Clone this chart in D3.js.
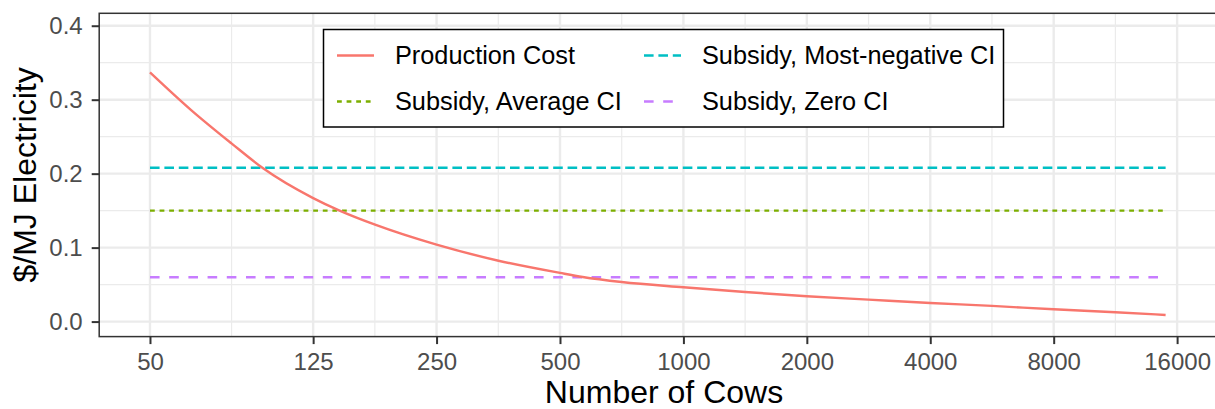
<!DOCTYPE html>
<html>
<head>
<meta charset="utf-8">
<script src="https://cdn.jsdelivr.net/npm/d3@7"></script>
<style>
  html, body { margin: 0; padding: 0; background: #fff; }
  svg { display: block; font-family: "Liberation Sans", Arial, sans-serif; }
</style>
</head>
<body>
<svg id="chart" width="1215" height="409"></svg>
<script>
// ---- data ----
const cows = [50, 63, 79, 94, 125, 145, 177, 250, 354, 500, 568, 707, 1000, 1414, 2000, 2828, 4000, 5657, 8000, 11314, 15000];
const productionCost = [0.337, 0.286, 0.241, 0.208, 0.167, 0.150, 0.131, 0.104, 0.0823, 0.0658, 0.0603, 0.0535, 0.0464, 0.0400, 0.0342, 0.0297, 0.0252, 0.0212, 0.0166, 0.0126, 0.0090];
const subsidyNames = ["Subsidy, Average CI", "Subsidy, Most-negative CI", "Subsidy, Zero CI"];
const subsidyValues = [0.150, 0.208, 0.060];
const subsidyRange = [50, 15000];
const xTickValues = [50, 125, 250, 500, 1000, 2000, 4000, 8000, 16000];
const yTickValues = [0.0, 0.1, 0.2, 0.3, 0.4];
const legendLabels = ["Production Cost", "Subsidy, Average CI", "Subsidy, Most-negative CI", "Subsidy, Zero CI"];

// ---- styles ----
const colors = {
  "Production Cost": "#F8766D",
  "Subsidy, Average CI": "#7CAE00",
  "Subsidy, Most-negative CI": "#00BFC4",
  "Subsidy, Zero CI": "#C77CFF"
};
const dashes = {
  "Production Cost": null,
  "Subsidy, Average CI": "4.8,4.8",
  "Subsidy, Most-negative CI": "9.6,4.8",
  "Subsidy, Zero CI": "9.6,9.6"
};
const lineW = 2.4;

const svg = d3.select("#chart");
const panel = { left: 99.2, right: 1216.4, top: 13.3, bottom: 336.6 };

const expand = Math.log10(15000 / 50) * 0.05;
const x = d3.scaleLog()
  .domain([50 / Math.pow(10, expand), 15000 * Math.pow(10, expand)])
  .range([panel.left, panel.right]);
const y = d3.scaleLinear()
  .domain([-0.0203, 0.4168])
  .range([panel.bottom, panel.top]);

// clip for panel
svg.append("defs").append("clipPath").attr("id", "clip")
  .append("rect").attr("x", panel.left).attr("y", panel.top)
  .attr("width", panel.right - panel.left).attr("height", panel.bottom - panel.top);

const grid = svg.append("g").attr("clip-path", "url(#clip)");

// minor gridlines (midpoints in transformed space)
const xMinor = d3.pairs(xTickValues).map(([a, b]) => Math.sqrt(a * b));
const yMinor = d3.pairs(yTickValues).map(([a, b]) => (a + b) / 2);

grid.selectAll(".xminor").data(xMinor).join("line")
  .attr("x1", d => x(d)).attr("x2", d => x(d))
  .attr("y1", panel.top).attr("y2", panel.bottom)
  .attr("stroke", "#EBEBEB").attr("stroke-width", 1.2);
grid.selectAll(".yminor").data(yMinor).join("line")
  .attr("y1", d => y(d)).attr("y2", d => y(d))
  .attr("x1", panel.left).attr("x2", panel.right)
  .attr("stroke", "#EBEBEB").attr("stroke-width", 1.2);
grid.selectAll(".xmajor").data(xTickValues).join("line")
  .attr("x1", d => x(d)).attr("x2", d => x(d))
  .attr("y1", panel.top).attr("y2", panel.bottom)
  .attr("stroke", "#EBEBEB").attr("stroke-width", 2.4);
grid.selectAll(".ymajor").data(yTickValues).join("line")
  .attr("y1", d => y(d)).attr("y2", d => y(d))
  .attr("x1", panel.left).attr("x2", panel.right)
  .attr("stroke", "#EBEBEB").attr("stroke-width", 2.4);

// subsidy lines
const plot = svg.append("g").attr("clip-path", "url(#clip)");
subsidyNames.forEach((name, i) => {
  plot.append("line")
    .attr("x1", x(subsidyRange[0])).attr("x2", x(subsidyRange[1]))
    .attr("y1", y(subsidyValues[i])).attr("y2", y(subsidyValues[i]))
    .attr("stroke", colors[name]).attr("stroke-width", lineW)
    .attr("stroke-dasharray", dashes[name]);
});

// production cost curve
const pts = cows.map((c, i) => [c, productionCost[i]]);
plot.append("path")
  .datum(pts)
  .attr("fill", "none")
  .attr("stroke", colors["Production Cost"])
  .attr("stroke-width", lineW)
  .attr("d", d3.line().x(d => x(d[0])).y(d => y(d[1])).curve(d3.curveMonotoneX));

// panel border
svg.append("rect")
  .attr("x", panel.left).attr("y", panel.top)
  .attr("width", panel.right - panel.left).attr("height", panel.bottom - panel.top)
  .attr("fill", "none").attr("stroke", "#333333").attr("stroke-width", 1.5);

// axes
const xAxis = svg.append("g").attr("transform", `translate(0,${panel.bottom})`)
  .call(d3.axisBottom(x).tickValues(xTickValues).tickFormat(d3.format("d")).tickSize(7.5).tickPadding(9));
const yAxis = svg.append("g").attr("transform", `translate(${panel.left},0)`)
  .call(d3.axisLeft(y).tickValues(yTickValues).tickFormat(d3.format(".1f")).tickSize(7.5).tickPadding(9));
[xAxis, yAxis].forEach(a => {
  a.select(".domain").remove();
  a.selectAll(".tick line").attr("stroke", "#333333").attr("stroke-width", 2);
  a.selectAll(".tick text").attr("fill", "#4D4D4D")
    .style("font-size", "24px").style("font-family", "'Liberation Sans', Arial, sans-serif");
});

// axis titles
svg.append("text")
  .attr("x", 664).attr("y", 403)
  .attr("text-anchor", "middle").attr("fill", "#000")
  .style("font-size", "32px").text("Number of Cows");
svg.append("text")
  .attr("transform", `translate(36,${(panel.top + panel.bottom) / 2}) rotate(-90)`)
  .attr("text-anchor", "middle").attr("fill", "#000")
  .style("font-size", "32px").text("$/MJ Electricity");

// legend
const lg = svg.append("g");
lg.append("rect").attr("x", 323.5).attr("y", 29.5).attr("width", 680).attr("height", 97.5)
  .attr("fill", "#fff").attr("stroke", "#000").attr("stroke-width", 1.5);
const colX = [337, 644];
const rowY = [55.5, 101.5];
legendLabels.forEach((name, i) => {
  const col = Math.floor(i / 2), row = i % 2;
  const gx = colX[col], gy = rowY[row];
  lg.append("line").attr("x1", gx).attr("x2", gx + 37).attr("y1", gy).attr("y2", gy)
    .attr("stroke", colors[name]).attr("stroke-width", lineW)
    .attr("stroke-dasharray", dashes[name]);
  lg.append("text").attr("x", gx + 58).attr("y", gy).attr("dy", "0.35em")
    .attr("fill", "#000").style("font-size", "25.3px").text(name);
});
</script>
</body>
</html>
